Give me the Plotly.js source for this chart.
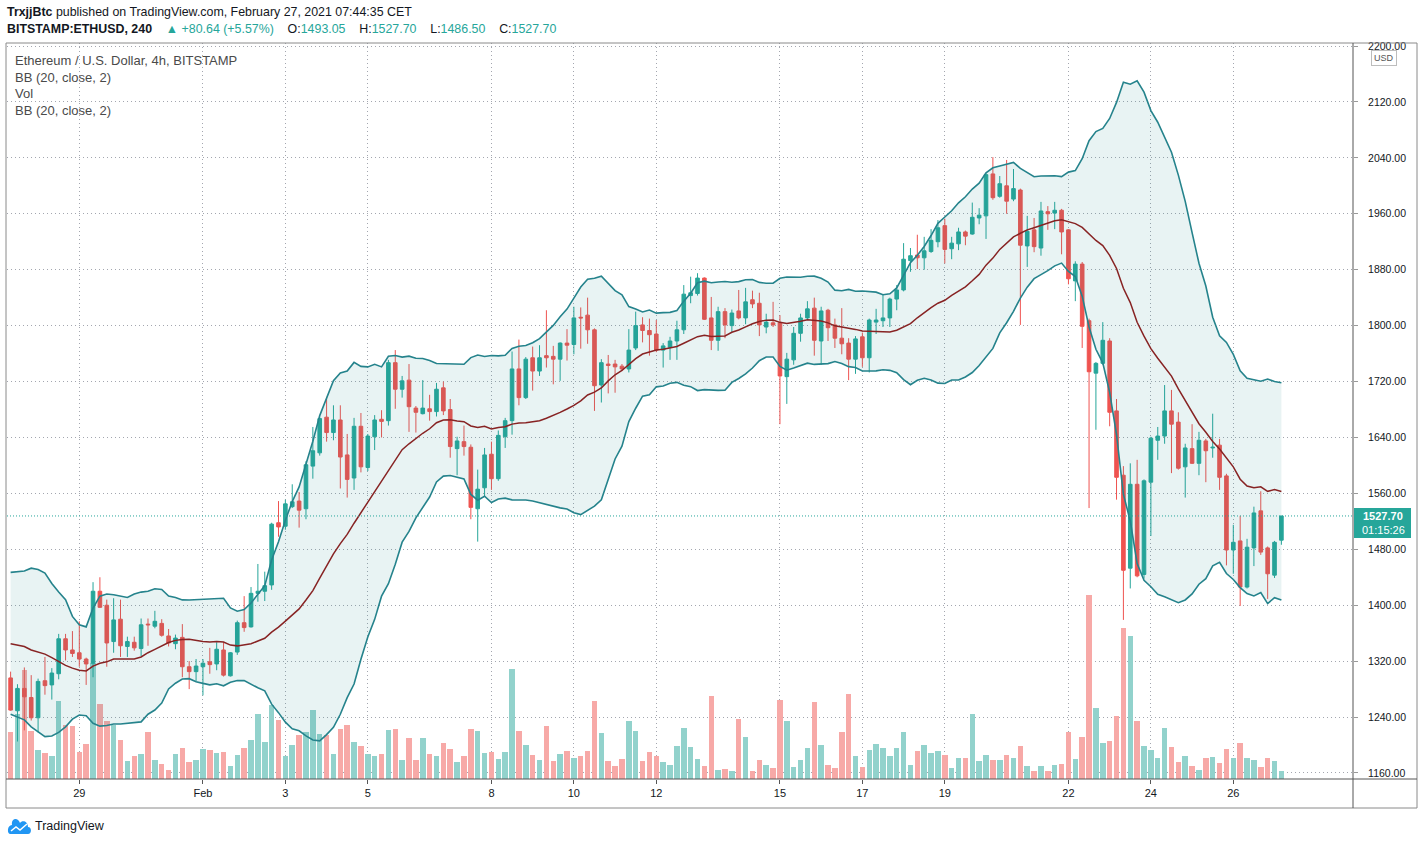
<!DOCTYPE html>
<html><head><meta charset="utf-8">
<script src="https://cdn.plot.ly/plotly-3.0.1.min.js"></script>
<style>html,body{margin:0;padding:0;background:#fff;}#chart{width:1424px;height:844px;}</style>
</head><body><div id="chart"></div>
<script>
// ETH/USD Bitstamp, 4h bars (CET), first bar 2021-01-27 09:00
const firstBar = '2021-01-27T09:00:00Z';
const barHours = 4;

const open = [1296,1249,1281,1268,1239,1292,1286,1302,1352,1336,
1332,1323,1317,1420,1400,1348,1380,1341,1347,1338,
1373,1370,1374,1356,1345,1354,1312,1305,1312,1319,
1316,1336,1299,1333,1375,1369,1417,1420,1429,1518,
1513,1541,1549,1538,1599,1618,1669,1647,1665,1615,
1582,1656,1597,1641,1666,1664,1747,1709,1722,1682,
1674,1681,1677,1711,1680,1624,1634,1626,1538,1568,
1616,1581,1641,1664,1738,1697,1754,1735,1757,1756,
1752,1775,1773,1812,1815,1794,1715,1745,1745,1742,
1738,1768,1801,1793,1788,1765,1769,1778,1794,1843,
1846,1868,1811,1779,1820,1800,1821,1811,1837,1832,
1798,1804,1804,1727,1751,1789,1811,1825,1778,1822,
1801,1782,1775,1752,1784,1754,1805,1807,1811,1838,
1851,1893,1901,1897,1906,1920,1943,1910,1917,1934,
1931,1954,1957,2017,1985,2000,1981,1994,1914,1937,
1911,1963,1961,1965,1937,1864,1888,1807,1732,1746,
1778,1678,1586,1453,1573,1444,1576,1636,1642,1678,
1662,1598,1624,1603,1635,1625,1629,1585,1479,1492,
1426,1482,1535,1482,1443,1493.05];

const high = [1305,1287,1311,1300,1295,1326,1310,1359,1359,1363,
1377,1325,1433,1440,1408,1410,1408,1355,1355,1381,
1381,1392,1380,1366,1358,1373,1320,1323,1323,1339,
1347,1347,1333,1378,1413,1426,1459,1448,1518,1549,
1551,1573,1562,1606,1655,1670,1698,1686,1686,1645,
1668,1675,1645,1672,1679,1751,1765,1728,1745,1685,
1722,1701,1718,1720,1695,1641,1657,1630,1594,1625,
1634,1650,1668,1763,1780,1755,1770,1772,1822,1771,
1776,1795,1827,1826,1840,1796,1752,1758,1751,1745,
1795,1820,1812,1810,1808,1775,1784,1807,1858,1870,
1875,1869,1841,1827,1825,1823,1851,1854,1850,1847,
1817,1834,1815,1761,1798,1817,1835,1840,1827,1824,
1810,1825,1782,1785,1790,1810,1824,1845,1840,1858,
1918,1911,1930,1927,1938,1951,1953,1927,1940,1936,
1976,1968,2018,2041,2014,2037,2024,1996,1957,1954,
1977,1971,1977,1967,1938,1892,1891,1810,1748,1805,
1782,1695,1599,1603,1608,1580,1641,1655,1715,1708,
1676,1631,1659,1648,1638,1674,1638,1588,1515,1528,
1495,1541,1563,1484,1492,1527.70];

const low = [1249,1205,1221,1235,1218,1272,1265,1294,1321,1326,
1312,1286,1297,1396,1312,1332,1326,1326,1335,1327,
1342,1367,1355,1341,1337,1297,1280,1291,1271,1302,
1307,1298,1298,1329,1362,1368,1405,1406,1422,1498,
1508,1539,1511,1523,1581,1614,1634,1636,1567,1554,
1565,1590,1592,1622,1640,1657,1681,1697,1648,1647,
1673,1664,1670,1672,1611,1586,1614,1523,1491,1556,
1565,1578,1625,1644,1686,1695,1707,1728,1740,1716,
1721,1750,1759,1767,1774,1678,1690,1703,1704,1735,
1733,1765,1776,1757,1762,1740,1751,1751,1788,1832,
1843,1808,1765,1764,1782,1791,1809,1802,1825,1785,
1789,1798,1659,1688,1744,1777,1809,1757,1744,1778,
1768,1759,1722,1731,1741,1733,1788,1798,1798,1822,
1849,1877,1881,1880,1904,1912,1889,1895,1908,1915,
1930,1945,1924,1980,1983,1960,1978,1801,1884,1905,
1900,1937,1938,1902,1859,1835,1768,1539,1651,1744,
1656,1551,1379,1424,1440,1438,1499,1608,1631,1589,
1594,1554,1602,1586,1576,1611,1565,1457,1445,1399,
1424,1456,1472,1409,1439,1486.50];

const close = [1250,1281,1269,1239,1291,1285,1303,1352,1336,1331,
1323,1316,1420,1397,1346,1379,1342,1348,1339,1372,
1372,1377,1357,1346,1353,1312,1305,1313,1317,1315,
1337,1300,1332,1375,1368,1417,1420,1428,1516,1512,
1545,1548,1536,1601,1621,1667,1647,1665,1612,1580,
1656,1598,1642,1665,1663,1747,1709,1721,1684,1676,
1682,1677,1709,1678,1627,1635,1627,1540,1566,1615,
1581,1643,1664,1738,1697,1752,1735,1754,1754,1752,
1775,1772,1811,1811,1794,1714,1747,1743,1741,1738,
1765,1800,1793,1787,1765,1771,1778,1794,1845,1847,
1868,1809,1779,1820,1801,1818,1811,1834,1831,1801,
1805,1801,1728,1752,1789,1811,1824,1779,1821,1797,
1782,1774,1752,1781,1754,1808,1808,1811,1838,1851,
1895,1900,1897,1907,1922,1940,1909,1918,1934,1928,
1955,1958,2016,1983,2003,1978,1996,1915,1935,1913,
1964,1960,1965,1934,1867,1888,1799,1734,1746,1779,
1676,1583,1450,1573,1442,1578,1639,1642,1678,1659,
1596,1625,1603,1636,1621,1626,1583,1479,1490,1426,
1483,1532,1476,1445,1490,1527.70];

// volume (hundreds of ETH)
const volume = [47,65,109,48,29,26,23,78,54,53,
27,35,116,75,58,54,39,18,23,25,
47,19,15,9,25,31,17,19,30,29,
26,27,13,24,31,39,65,37,74,59,
23,34,44,47,69,45,44,25,50,54,
37,33,25,23,25,49,50,19,41,19,
41,25,23,36,30,17,23,50,48,26,
27,20,27,110,48,34,24,19,53,18,
25,28,21,23,28,78,46,18,13,20,
58,48,18,27,23,17,14,33,51,32,
20,13,83,9,10,8,60,42,8,19,
14,11,79,58,12,19,31,77,34,14,
11,47,85,23,12,29,35,31,23,31,
47,14,28,34,26,28,24,11,21,21,
65,18,24,19,19,24,21,33,13,8,
13,8,14,15,47,20,42,184,71,36,
38,63,151,143,58,33,29,21,51,32,
17,23,13,9,21,22,16,30,21,36,
21,19,12,21,18,8];

// BB(20, close, 2) values for the first 19 bars (need earlier history)
const bbUpperHead = [1447,1448,1449,1453,1451,1446,1431,1419,1408,1384,1372,1369,1396,1413,1416,1415,1413,1411,1416];
const bbBasisHead = [1345,1343,1341,1336,1333,1330,1325,1319,1314,1310,1307,1306,1313,1317,1319,1323,1323,1322,1323];
const bbLowerHead = [1244,1240,1236,1226,1219,1212,1213,1218,1226,1237,1243,1242,1231,1227,1228,1230,1230,1231,1233];

const tickDates = ['2021-01-29 01:00','2021-02-01 01:00','2021-02-03 01:00','2021-02-05 01:00','2021-02-08 01:00','2021-02-10 01:00','2021-02-12 01:00','2021-02-15 01:00','2021-02-17 01:00','2021-02-19 01:00','2021-02-22 01:00','2021-02-24 01:00','2021-02-26 01:00'];
const tickLabels = ['29','Feb','3','5','8','10','12','15','17','19','22','24','26'];
const priceTicks = [1160,1240,1320,1400,1480,1560,1640,1720,1800,1880,1960,2040,2120,2200];
const lastPrice = 1527.70;

const t0 = Date.parse(firstBar);
const times = close.map((_, i) => new Date(t0 + i*barHours*3600e3).toISOString().slice(0,16).replace('T',' '));

const period = 20, mult = 2;
const bbUpper = [], bbBasis = [], bbLower = [];
for (let i = 0; i < close.length; i++) {
  if (i < period - 1) { bbUpper.push(bbUpperHead[i]); bbBasis.push(bbBasisHead[i]); bbLower.push(bbLowerHead[i]); continue; }
  const w = close.slice(i - period + 1, i + 1);
  const m = w.reduce((a, b) => a + b, 0) / period;
  const sd = Math.sqrt(w.reduce((a, b) => a + (b - m) * (b - m), 0) / period);
  bbBasis.push(m); bbUpper.push(m + mult * sd); bbLower.push(m - mult * sd);
}

const UP = '#26a69a', DN = '#ef5350';
const volColors = close.map((c, i) => c >= open[i] ? '#92d2cc' : '#f7a9a7');

const traces = [
  {type:'bar', x:times, y:volume, xaxis:'x', yaxis:'y', marker:{color:volColors, line:{width:0}},
   width:barHours*3600e3*0.8, hoverinfo:'skip'},
  {type:'candlestick', x:times, open:open, high:high, low:low, close:close, xaxis:'x', yaxis:'y2',
   increasing:{line:{color:UP, width:1}, fillcolor:UP},
   decreasing:{line:{color:DN, width:1}, fillcolor:DN}, whiskerwidth:0, hoverinfo:'skip'},
  {type:'scatter', mode:'lines', x:times, y:bbUpper, xaxis:'x', yaxis:'y2', line:{color:'#25838c', width:1.6}, hoverinfo:'skip'},
  {type:'scatter', mode:'lines', x:times, y:bbLower, xaxis:'x', yaxis:'y2', line:{color:'#25838c', width:1.6}, fill:'tonexty', fillcolor:'rgba(25,140,140,0.1)', hoverinfo:'skip'},
  {type:'scatter', mode:'lines', x:times, y:bbBasis, xaxis:'x', yaxis:'y2', line:{color:'#872323', width:1.5}, hoverinfo:'skip'}
];

// pixel -> paper helpers for decorations (plot area: x 7..1353, y 43..779)
const PX = px => (px - 7) / 1346;
const PY = py => (779 - py) / 736;
const P = (px, py) => PX(px).toFixed(5) + ',' + PY(py).toFixed(5);

const frame = '#555';
const shapes = [
  {type:'rect', xref:'paper', yref:'paper', x0:PX(6), x1:PX(1417), y0:PY(808), y1:PY(43), line:{color:'#8a8a8a', width:1}},
  {type:'line', xref:'paper', yref:'paper', x0:PX(6), x1:PX(1417), y0:0, y1:0, line:{color:frame, width:1}},
  {type:'line', xref:'paper', yref:'paper', x0:1, x1:1, y0:PY(808), y1:1, line:{color:frame, width:1}},
  {type:'line', xref:'paper', yref:'y2', x0:0, x1:1, y0:lastPrice, y1:lastPrice, line:{color:UP, width:1, dash:'1px,2px'}},
  {type:'rect', xref:'paper', yref:'paper', x0:PX(1354), x1:PX(1411), y0:PY(538), y1:PY(508), fillcolor:UP, line:{width:0}},
  // TradingView logo (cloud)
  {type:'path', xref:'paper', yref:'paper',
   path:'M '+P(10,834)+' L '+P(28,834)+' C '+P(32,834)+' '+P(32,827)+' '+P(28,827)+' C '+P(28,821)+' '+P(22,820)+' '+P(20,823)+' C '+P(18,817)+' '+P(11,818)+' '+P(12,825)+' C '+P(7,825)+' '+P(7,834)+' '+P(10,834)+' Z',
   fillcolor:'#2196f3', line:{width:0}},
  {type:'path', xref:'paper', yref:'paper', path:'M '+P(11,831)+' L '+P(16,827)+' L '+P(20,830)+' L '+P(27,824),
   line:{color:'#ffffff', width:1.5}}
];

const teal = s => '<span style="color:#26a69a">' + s + '</span>';
const nb = '\u00a0';
const gap = nb + nb + nb + nb;
const annotations = [
  {xref:'paper', yref:'paper', x:PX(6), y:PY(12), xanchor:'left', yanchor:'middle', showarrow:false, borderpad:0,
   text:'<b>TrxjjBtc</b> published on TradingView.com, February 27, 2021 07:44:35 CET', font:{size:12.4, color:'#131722'}},
  {xref:'paper', yref:'paper', x:PX(6), y:PY(29), xanchor:'left', yanchor:'middle', showarrow:false, borderpad:0,
   text:'<b>BITSTAMP:ETHUSD, 240</b>'+gap+teal('\u25B2'+nb+'+80.64 (+5.57%)')+gap+'O:'+teal('1493.05')+gap+'H:'+teal('1527.70')+gap+'L:'+teal('1486.50')+gap+'C:'+teal('1527.70'),
   font:{size:12.4, color:'#131722'}},
  {xref:'paper', yref:'paper', x:PX(14), y:PY(60), xanchor:'left', yanchor:'middle', showarrow:false, borderpad:0, text:'Ethereum / U.S. Dollar, 4h, BITSTAMP', font:{size:13, color:'#4a4a4a'}},
  {xref:'paper', yref:'paper', x:PX(14), y:PY(77), xanchor:'left', yanchor:'middle', showarrow:false, borderpad:0, text:'BB (20, close, 2)', font:{size:13, color:'#4a4a4a'}},
  {xref:'paper', yref:'paper', x:PX(14), y:PY(94), xanchor:'left', yanchor:'middle', showarrow:false, borderpad:0, text:'Vol', font:{size:13, color:'#4a4a4a'}},
  {xref:'paper', yref:'paper', x:PX(14), y:PY(111), xanchor:'left', yanchor:'middle', showarrow:false, borderpad:0, text:'BB (20, close, 2)', font:{size:13, color:'#4a4a4a'}},
  {xref:'paper', yref:'paper', x:PX(1384), y:PY(58), xanchor:'center', yanchor:'middle', showarrow:false, text:'USD',
   font:{size:9, color:'#555'}, bordercolor:'#bdbdbd', borderwidth:1, borderpad:2, bgcolor:'#fff'},
  {xref:'paper', yref:'paper', x:PX(1383), y:PY(516), xanchor:'center', yanchor:'middle', showarrow:false, text:'<b>1527.70</b>', font:{size:11, color:'#fff'}},
  {xref:'paper', yref:'paper', x:PX(1383), y:PY(530), xanchor:'center', yanchor:'middle', showarrow:false, text:'01:15:26', font:{size:11, color:'#fff'}},
  {xref:'paper', yref:'paper', x:PX(34), y:PY(826), xanchor:'left', yanchor:'middle', showarrow:false, borderpad:0, text:'TradingView', font:{size:12.5, color:'#131722'}}
];

const gridColor = '#a3a6af';
const layout = {
  width:1424, height:844,
  margin:{l:7, r:71, t:43, b:65, pad:0},
  paper_bgcolor:'#ffffff', plot_bgcolor:'#ffffff',
  showlegend:false, dragmode:false, hovermode:false,
  boxgap:0.25, bargap:0,
  font:{family:'"Liberation Sans", Arial, sans-serif', size:11, color:'#131722'},
  xaxis:{type:'date', range:['2021-01-27 06:54','2021-02-28 22:42'], tickmode:'array', tickvals:tickDates, ticktext:tickLabels,
    showgrid:true, gridcolor:gridColor, griddash:'1px,3px', gridwidth:1, ticks:'outside', ticklen:4, tickcolor:'#555',
    showline:false, zeroline:false, rangeslider:{visible:false}, tickfont:{size:11, color:'#131722'}, fixedrange:true},
  yaxis:{range:[0,736], visible:false, fixedrange:true},
  yaxis2:{overlaying:'y', side:'right', range:[1151.4,2204.3], tickmode:'array', tickvals:priceTicks,
    ticktext:priceTicks.map(v => v.toFixed(2)), showgrid:true, gridcolor:gridColor, griddash:'1px,3px', gridwidth:1,
    ticks:'outside', ticklen:4, tickcolor:'#999', ticklabelstandoff:8, tickfont:{size:10.5, color:'#131722'}, zeroline:false, showline:false, fixedrange:true},
  shapes:shapes, annotations:annotations
};

Plotly.newPlot('chart', traces, layout, {staticPlot:true, displayModeBar:false});
</script>
</body></html>
